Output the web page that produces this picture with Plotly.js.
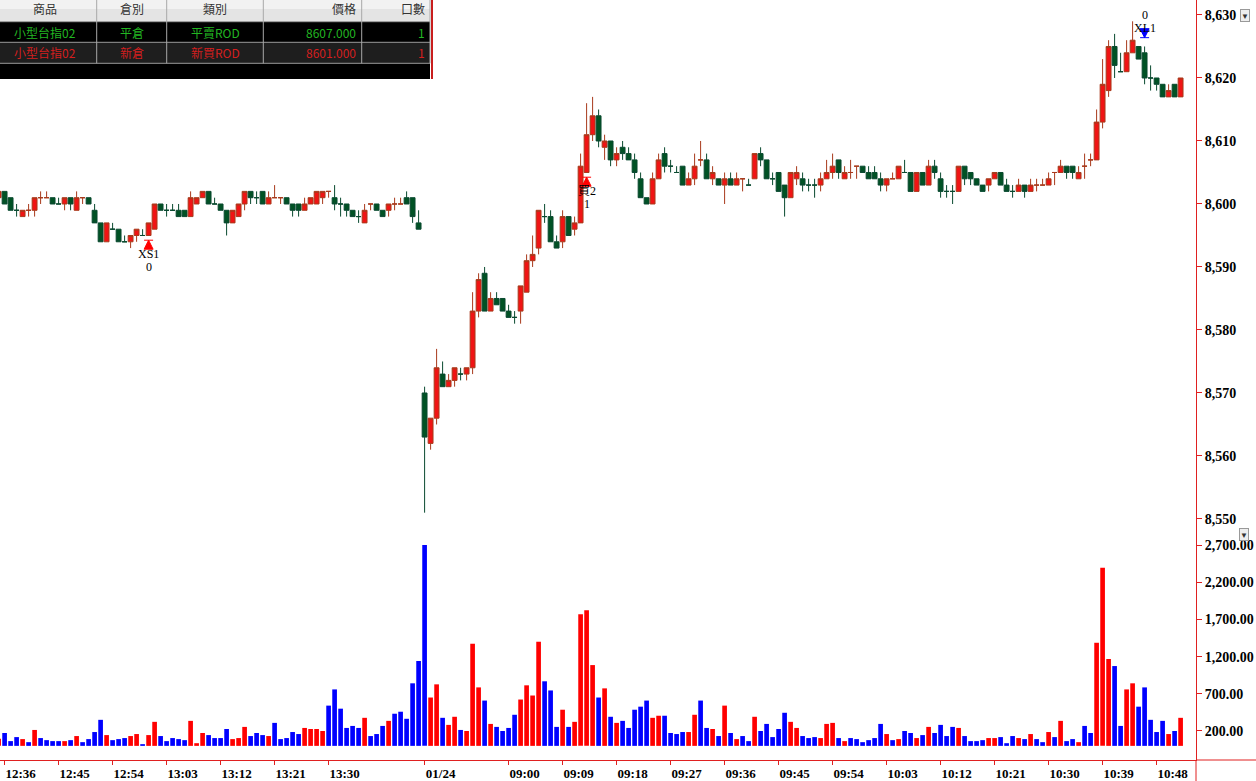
<!DOCTYPE html>
<html><head><meta charset="utf-8">
<script src="https://cdn.plot.ly/plotly-3.0.1.min.js"></script>
<style>html,body{margin:0;padding:0;background:#fff;overflow:hidden}#chart{width:1256px;height:781px}</style>
</head><body><div id="chart"></div>
<script>
// ---- data ----
const times = ("12:35 12:36 12:37 12:38 12:39 12:40 12:41 12:42 12:43 12:44 12:45 12:46 12:47 12:48 12:49 12:50 12:51 12:52 12:53 12:54 " +
"12:55 12:56 12:57 12:58 12:59 13:00 13:01 13:02 13:03 13:04 13:05 13:06 13:07 13:08 13:09 13:10 13:11 13:12 13:13 13:14 " +
"13:15 13:16 13:17 13:18 13:19 13:20 13:21 13:22 13:23 13:24 13:25 13:26 13:27 13:28 13:29 13:30 13:31 13:32 13:33 13:34 " +
"13:35 13:36 13:37 13:38 13:39 13:40 13:41 13:42 13:43 13:44 13:45 08:46 08:47 08:48 08:49 08:50 08:51 08:52 08:53 08:54 " +
"08:55 08:56 08:57 08:58 08:59 09:00 09:01 09:02 09:03 09:04 09:05 09:06 09:07 09:08 09:09 09:10 09:11 09:12 09:13 09:14 " +
"09:15 09:16 09:17 09:18 09:19 09:20 09:21 09:22 09:23 09:24 09:25 09:26 09:27 09:28 09:29 09:30 09:31 09:32 09:33 09:34 " +
"09:35 09:36 09:37 09:38 09:39 09:40 09:41 09:42 09:43 09:44 09:45 09:46 09:47 09:48 09:49 09:50 09:51 09:52 09:53 09:54 " +
"09:55 09:56 09:57 09:58 09:59 10:00 10:01 10:02 10:03 10:04 10:05 10:06 10:07 10:08 10:09 10:10 10:11 10:12 10:13 10:14 " +
"10:15 10:16 10:17 10:18 10:19 10:20 10:21 10:22 10:23 10:24 10:25 10:26 10:27 10:28 10:29 10:30 10:31 10:32 10:33 10:34 " +
"10:35 10:36 10:37 10:38 10:39 10:40 10:41 10:42 10:43 10:44 10:45 10:46 10:47 10:48 10:49 10:50 10:51 10:52").split(" ");

const openP = [8601,8602,8601,8599,8598,8599,8599,8601,8601,8601,
8600,8600,8601,8599,8601,8601,8599,8597,8594,8596,
8596,8594,8594,8595,8595,8595,8596,8600,8599,8599,
8599,8599,8598,8600,8601,8602,8600,8600,8599,8597,
8598,8600,8602,8601,8602,8600,8601,8601,8601,8600,
8600,8599,8600,8600,8601,8602,8601,8600,8600,8599,
8598,8597,8600,8600,8599,8599,8600,8600,8601,8601,
8597,8570,8562,8566,8573,8571,8572,8573,8573,8574,
8583,8589,8583,8585,8585,8583,8582,8583,8586,8591,
8593,8598,8598,8594,8594,8598,8596,8597,8605,8611,
8614,8609,8610,8607,8609,8608,8607,8604,8601,8600,
8604,8608,8606,8605,8606,8603,8604,8607,8607,8604,
8604,8603,8604,8603,8604,8603,8604,8608,8607,8604,
8605,8603,8601,8604,8604,8603,8603,8603,8604,8605,
8607,8604,8605,8606,8606,8605,8605,8604,8603,8604,
8604,8605,8605,8602,8605,8603,8606,8604,8602,8602,
8602,8606,8605,8604,8603,8603,8604,8605,8603,8602,
8602,8603,8602,8603,8603,8603,8605,8605,8606,8606,
8604,8606,8607,8607,8613,8618,8625,8621,8621,8624,
8625,8624,8620,8620,8619,8617,8619,8617];

const highP = [8602,8602,8601,8600,8599,8600,8601,8602,8602,8601,
8601,8601,8601,8602,8601,8601,8600,8597,8597,8597,
8596,8595,8595,8596,8596,8597,8600,8600,8600,8600,
8600,8599,8602,8601,8602,8602,8601,8600,8599,8599,
8600,8602,8602,8602,8602,8602,8603,8601,8601,8600,
8600,8601,8601,8602,8602,8602,8603,8601,8600,8599,
8599,8600,8600,8600,8599,8600,8601,8601,8602,8601,
8599,8571,8566,8577,8575,8573,8574,8574,8574,8586,
8589,8590,8586,8586,8585,8584,8583,8587,8592,8595,
8599,8600,8599,8595,8599,8598,8598,8608,8616,8617,
8615,8611,8610,8609,8610,8609,8608,8605,8601,8605,
8608,8609,8607,8606,8606,8605,8608,8610,8608,8606,
8604,8605,8605,8605,8604,8604,8608,8609,8607,8605,
8605,8603,8605,8606,8605,8604,8604,8605,8607,8608,
8607,8606,8607,8606,8606,8606,8606,8605,8604,8605,
8606,8607,8605,8605,8605,8607,8607,8605,8603,8603,
8606,8606,8605,8604,8603,8604,8605,8605,8604,8603,
8604,8603,8604,8604,8604,8605,8605,8607,8606,8606,
8606,8608,8608,8615,8623,8626,8627,8624,8626,8629,
8625,8625,8622,8620,8619,8619,8619,8620];

const lowP = [8601,8600,8599,8598,8598,8598,8598,8600,8601,8600,
8600,8599,8599,8599,8600,8600,8597,8594,8594,8596,
8594,8594,8593,8594,8595,8595,8596,8599,8598,8599,
8598,8598,8598,8600,8601,8600,8600,8599,8595,8597,
8598,8599,8600,8600,8600,8600,8601,8600,8600,8598,
8598,8599,8600,8600,8600,8601,8599,8598,8598,8598,
8597,8597,8599,8599,8598,8598,8599,8600,8600,8597,
8596,8551,8561,8565,8571,8571,8571,8572,8572,8573,
8582,8583,8583,8584,8583,8582,8581,8581,8586,8590,
8592,8597,8594,8593,8593,8595,8595,8597,8605,8610,
8609,8607,8606,8606,8607,8607,8604,8601,8600,8600,
8604,8605,8605,8605,8603,8603,8603,8606,8604,8603,
8603,8600,8603,8603,8602,8603,8604,8606,8604,8603,
8602,8598,8601,8603,8602,8602,8601,8602,8604,8604,
8604,8604,8604,8604,8605,8604,8604,8602,8602,8604,
8604,8605,8602,8602,8603,8603,8604,8601,8601,8600,
8602,8603,8603,8603,8602,8602,8604,8603,8602,8601,
8602,8601,8602,8602,8603,8603,8603,8605,8604,8604,
8604,8604,8606,8607,8612,8617,8620,8621,8621,8624,
8623,8619,8618,8618,8617,8617,8617,8617];

const closeP = [8602,8600,8599,8599,8599,8599,8601,8601,8601,8600,
8600,8601,8600,8601,8601,8600,8597,8594,8597,8596,
8594,8594,8595,8596,8595,8597,8600,8599,8599,8599,
8598,8598,8601,8601,8602,8600,8600,8599,8597,8599,
8600,8602,8601,8601,8600,8601,8601,8601,8600,8599,
8599,8600,8601,8602,8602,8602,8600,8600,8599,8598,
8598,8599,8600,8599,8598,8600,8600,8600,8600,8598,
8596,8563,8566,8574,8571,8572,8574,8573,8574,8583,
8588,8583,8585,8584,8583,8582,8582,8587,8591,8592,
8599,8598,8594,8593,8598,8595,8597,8606,8611,8614,
8610,8610,8607,8608,8608,8607,8605,8601,8600,8604,
8607,8606,8606,8605,8603,8604,8606,8607,8604,8605,
8603,8604,8603,8604,8604,8603,8608,8607,8604,8604,
8602,8601,8605,8605,8603,8603,8603,8604,8605,8606,
8605,8605,8605,8606,8605,8604,8604,8603,8604,8604,
8606,8605,8602,8605,8603,8606,8605,8602,8602,8602,
8606,8604,8604,8603,8602,8604,8605,8603,8602,8602,
8603,8602,8603,8603,8603,8604,8605,8606,8605,8605,
8605,8606,8607,8613,8619,8625,8622,8621,8624,8626,
8623,8620,8620,8619,8617,8618,8617,8620];

const volume = [95,173,64,118,91,50,214,105,77,64,
64,64,77,132,50,91,186,350,145,77,
91,105,132,159,23,145,323,132,64,105,
91,77,336,36,173,145,105,105,227,91,
105,255,132,173,145,132,309,91,105,186,
159,241,227,227,200,541,759,500,241,268,
241,377,132,159,268,336,432,459,364,841,
1141,2700,650,827,377,282,391,214,200,1373,
786,609,295,255,200,241,418,623,814,677,
1400,868,745,255,486,255,323,1768,1823,1086,
650,773,391,309,336,241,486,527,609,377,
405,405,173,159,186,186,418,609,241,227,
132,541,173,91,132,64,391,200,295,118,
227,445,323,241,132,105,118,105,295,309,
105,64,105,91,50,77,105,295,159,77,
91,200,173,105,145,255,173,282,132,255,
241,132,64,64,77,105,105,118,36,132,
105,91,159,91,50,186,118,336,64,91,
50,268,173,1386,2395,1168,1073,268,759,841,
527,786,350,186,336,159,200,377];

const tickTimes = ["12:36","12:45","12:54","13:03","13:12","13:21","13:30","08:46","09:00","09:09","09:18","09:27","09:36","09:45","09:54","10:03","10:12","10:21","10:30","10:39","10:48"];
const tickLabels = ["12:36","12:45","12:54","13:03","13:12","13:21","13:30","01/24","09:00","09:09","09:18","09:27","09:36","09:45","09:54","10:03","10:12","10:21","10:30","10:39","10:48"];
const priceTicks = [8550,8560,8570,8580,8590,8600,8610,8620,8630];
const volumeTicks = [200,700,1200,1700,2200,2700];

// trade signals
const signalTimes = ["13:00","09:13","10:46"];
const signalNames = ["XS1","買2","XL1"];
const signalQty = ["0","1","0"];
const signalSide = ["below","below","above"];

// order table
const tableHeader = ["商品","倉別","類別","價格","口數"];
const tableRow1 = ["小型台指02","平倉","平賣ROD","8607.000","1"];
const tableRow2 = ["小型台指02","新倉","新買ROD","8601.000","1"];

// ---- build ----
const volColors = closeP.map((c,i)=> c>openP[i] ? '#ff0000' : '#0000ff');

const W = 1196, H = 760; // plot area in px (margin l=0,t=0)
const px = x => x / W;
const py = y => 1 - y / H;

const traces = [
  {type:'candlestick', x:times, open:openP, high:highP, low:lowP, close:closeP,
   xaxis:'x', yaxis:'y', whiskerwidth:0, hoverinfo:'skip',
   increasing:{line:{color:'#a83a1c', width:1}, fillcolor:'#f01414'},
   decreasing:{line:{color:'#0a4a30', width:1}, fillcolor:'#005224'}},
  {type:'bar', x:times, y:volume, xaxis:'x', yaxis:'y2', hoverinfo:'skip',
   marker:{color:volColors, line:{width:0}}}
];

const sigIdx = signalTimes.map(t => times.indexOf(t));
const upIdx = sigIdx.filter((k,j)=>signalSide[j]==='below');
const dnIdx = sigIdx.filter((k,j)=>signalSide[j]==='above');
traces.push({type:'scatter', mode:'markers', x:upIdx.map(k=>times[k]), y:upIdx.map(k=>lowP[k]-0.75),
  xaxis:'x', yaxis:'y', hoverinfo:'skip', marker:{symbol:'arrow-bar-up', size:9, color:'#ff0000', line:{width:1, color:'#ff0000'}}});
traces.push({type:'scatter', mode:'markers', x:dnIdx.map(k=>times[k]), y:dnIdx.map(k=>highP[k]+1.4),
  xaxis:'x', yaxis:'y', hoverinfo:'skip', marker:{symbol:'arrow-bar-down', size:9, color:'#0000ff', line:{width:1, color:'#0000ff'}}});

const annotations = [];
const sigFont = {family:'Liberation Serif, Noto Sans CJK TC', size:12, color:'#000'};
sigIdx.forEach((k,j)=>{
  let y1, y2;
  if (signalSide[j]==='below'){ y1 = lowP[k]-3; y2 = lowP[k]-5; }
  else { y1 = highP[k]+3; y2 = highP[k]+5; }
  annotations.push({x:times[k], y:y1, xref:'x', yref:'y', text:signalNames[j], showarrow:false, font:sigFont});
  annotations.push({x:times[k], y:y2, xref:'x', yref:'y', text:signalQty[j], showarrow:false, font:sigFont});
});

// table
const colL = [0, 96.7, 166.7, 263.3, 361.7, 430];
const colAnchor = [[45,'center'],[132,'center'],[215,'center'],[358,'right'],[427,'right']];
const rowY = [8.5, 32, 53];
const tf = {family:'Noto Sans CJK TC, Noto Sans', size:12};
[[tableHeader,'#333333'],[tableRow1,'#22b622'],[tableRow2,'#d41e1e']].forEach((row,r)=>{
  row[0].forEach((txt,c)=>{
    annotations.push({xref:'paper', yref:'paper', x:px(colAnchor[c][0]), y:py(rowY[r]),
      xanchor:colAnchor[c][1], yanchor:'middle', text:txt, showarrow:false,
      font:Object.assign({}, tf, {color:row[1]})});
  });
});
// dropdown icons
[[1250,9],[1249,541]].forEach(p=>{
  annotations.push({xref:'paper', yref:'paper', x:px(p[0]), y:py(p[1]), text:'▼', showarrow:false,
    font:{size:8, color:'#333'}, bgcolor:'#eeeeee', bordercolor:'#999', borderwidth:1, borderpad:0});
});

const shapes = [
  {type:'rect', xref:'paper', yref:'paper', x0:px(0), x1:px(430), y0:py(0), y1:py(21.7), fillcolor:'#e4e4e4', line:{width:0}, layer:'above'},
  {type:'rect', xref:'paper', yref:'paper', x0:px(0), x1:px(430), y0:py(0), y1:py(9), fillcolor:'#f2f2f2', line:{width:0}, layer:'above'},
  {type:'rect', xref:'paper', yref:'paper', x0:px(0), x1:px(430), y0:py(21.7), y1:py(79), fillcolor:'#000000', line:{width:0}, layer:'above'},
  {type:'rect', xref:'paper', yref:'paper', x0:px(0), x1:px(430), y0:py(42.3), y1:py(63.3), fillcolor:'#1e1e1e', line:{width:0}, layer:'above'},
  {type:'line', xref:'paper', yref:'paper', x0:px(432), x1:px(432), y0:py(0), y1:py(79), line:{color:'#c81e1e', width:2}, layer:'above'},
  {type:'line', xref:'paper', yref:'paper', x0:1, x1:1256/W, y0:0, y1:0, line:{color:'#e02020', width:1}, layer:'above'},
  {type:'line', xref:'paper', yref:'paper', x0:1, x1:1, y0:0, y1:py(781), line:{color:'#e02020', width:1}, layer:'above'}
];
[21.7, 42.3, 63.3].forEach(y=>shapes.push({type:'line', xref:'paper', yref:'paper', x0:px(0), x1:px(430), y0:py(y), y1:py(y), line:{color:'#9a9a9a', width:1}, layer:'above'}));
colL.slice(1).forEach(x=>shapes.push({type:'line', xref:'paper', yref:'paper', x0:px(x), x1:px(x), y0:py(0), y1:py(63.3), line:{color:'#a8a8a8', width:1}, layer:'above'}));

const axFont = {family:'Liberation Serif', size:14, color:'#000', weight:'bold'};
const split = (H - 530) / H;

const layout = {
  width:1256, height:781,
  margin:{l:0, r:60, t:0, b:21, pad:0},
  paper_bgcolor:'#ffffff', plot_bgcolor:'#ffffff',
  showlegend:false, dragmode:false, hovermode:false,
  boxgap:0.1, boxgroupgap:0.1, bargap:0.22,
  xaxis:{type:'category', range:[0.2333, 199.567], tickmode:'array', tickvals:tickTimes, ticktext:tickLabels,
    showgrid:false, zeroline:false, showline:true, linecolor:'#e02020', linewidth:1,
    ticks:'outside', ticklen:4, tickcolor:'#e02020', ticklabelshift:16, ticklabelstandoff:-3,
    tickfont:{family:'Liberation Serif', size:13, color:'#000', weight:'bold'},
    rangeslider:{visible:false}, anchor:'y2', fixedrange:true},
  yaxis:{domain:[split,1], range:[8548.25, 8632.38], side:'right', tickmode:'array', tickvals:priceTicks,
    tickformat:',d', showgrid:false, zeroline:false, showline:true, linecolor:'#e02020', linewidth:1,
    ticks:'outside', ticklen:5, tickcolor:'#e02020', tickfont:axFont, fixedrange:true},
  yaxis2:{domain:[0,split], range:[-190, 2902], side:'right', tickmode:'array', tickvals:volumeTicks,
    tickformat:',.2f', showgrid:false, zeroline:false, showline:true, linecolor:'#e02020', linewidth:1,
    ticks:'outside', ticklen:5, tickcolor:'#e02020', tickfont:axFont, fixedrange:true},
  shapes:shapes, annotations:annotations
};

Plotly.newPlot('chart', traces, layout, {staticPlot:true, displayModeBar:false});
</script>
</body></html>
